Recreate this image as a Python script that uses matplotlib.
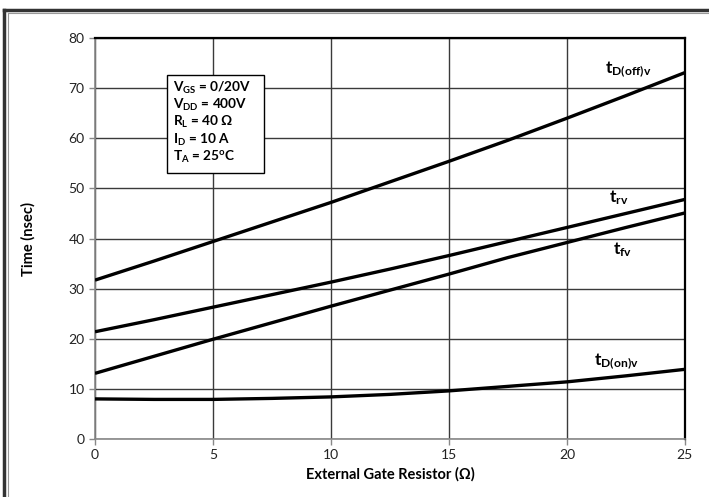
import numpy as np
import matplotlib.pyplot as plt
from matplotlib.lines import Line2D
from matplotlib.patches import Rectangle

plt.rcParams['font.family'] = ['Lato', 'DejaVu Sans']
plt.rcParams['mathtext.fontset'] = 'custom'
plt.rcParams['mathtext.rm'] = 'Lato'
plt.rcParams['mathtext.bf'] = 'Lato:bold'
plt.rcParams['mathtext.it'] = 'Lato:italic'

# gate resistor (ohm)
rg = [0, 2.5, 5, 7.5, 10, 12.5, 15, 17.5, 20, 22.5, 25]

# switching times (nsec)
t_doff = [31.7, 35.5, 39.4, 43.3, 47.2, 51.3, 55.4, 59.6, 64.0, 68.5, 73.1]
t_rv = [21.4, 23.8, 26.3, 28.8, 31.3, 33.9, 36.6, 39.4, 42.2, 45.0, 47.8]
t_fv = [13.1, 16.5, 19.9, 23.2, 26.5, 29.7, 32.9, 36.2, 39.2, 42.2, 45.1]
t_don = [8.0, 7.9, 7.9, 8.1, 8.4, 8.9, 9.6, 10.5, 11.4, 12.6, 13.9]

conditions = [r'$\mathbf{V_{GS}}$ = 0/20V', r'$\mathbf{V_{DD}}$ = 400V',
              r'$\mathbf{R_{L}}$ = 40 $\mathbf{\Omega}$', r'$\mathbf{I_{D}}$ = 10 A',
              r'$\mathbf{T_{A}}$ = 25$\mathbf{^{o}}$C']

fig = plt.figure(figsize=(7.09, 4.97), dpi=100)
ax = fig.add_axes([0.134, 0.1167, 0.832, 0.8068])

for y in [t_doff, t_rv, t_fv, t_don]:
    ax.plot(rg, y, color='black', lw=2.4, solid_capstyle='butt', zorder=3)

ax.set_xlim(0, 25)
ax.set_ylim(0, 80)
ax.set_xticks(np.arange(0, 26, 5))
ax.set_yticks(np.arange(0, 81, 10))
ax.grid(True, color='#3a3a3a', lw=1.0)
ax.set_axisbelow(True)
for s in ['top', 'right']:
    ax.spines[s].set_color('black')
    ax.spines[s].set_linewidth(1.6)
for s in ['left', 'bottom']:
    ax.spines[s].set_color('#888888')
    ax.spines[s].set_linewidth(1.2)
ax.tick_params(colors='#888888', labelcolor='#222222', labelsize=10, length=4, width=1)

ax.set_xlabel('External Gate Resistor (Ω)', fontsize=10.5, fontweight='bold', labelpad=4)
ax.set_ylabel('Time (nsec)', fontsize=10.5, fontweight='bold', labelpad=24)

lbl = dict(fontsize=12.5, ha='center', va='center', color='black')
ax.text(22.6, 73.7, r'$\mathbf{t_{D(off)v}}$', **lbl)
ax.text(22.2, 48.1, r'$\mathbf{t_{rv}}$', **lbl)
ax.text(22.35, 37.7, r'$\mathbf{t_{fv}}$', **lbl)
ax.text(22.1, 15.4, r'$\mathbf{t_{D(on)v}}$', **lbl)

# conditions box
ax.add_patch(Rectangle((3.06, 53.0), 4.11, 19.65, fc='white', ec='black', lw=1.0, zorder=4))
for i, line in enumerate(conditions):
    ax.text(3.3, 70.0 - 3.42 * i, line, fontsize=9.8, fontweight='bold',
            ha='left', va='center', zorder=5)

# outer frame on top and left
fig.add_artist(Line2D([0.005, 0.005], [0, 0.98], color='#333333', lw=2.5))
fig.add_artist(Line2D([0.005, 1], [0.98, 0.98], color='#333333', lw=2.5))
fig.add_artist(Line2D([0.011, 0.011], [0, 0.974], color='#999999', lw=0.8))
fig.add_artist(Line2D([0.011, 1], [0.974, 0.974], color='#999999', lw=0.8))

fig.savefig('out.png', dpi=100)
